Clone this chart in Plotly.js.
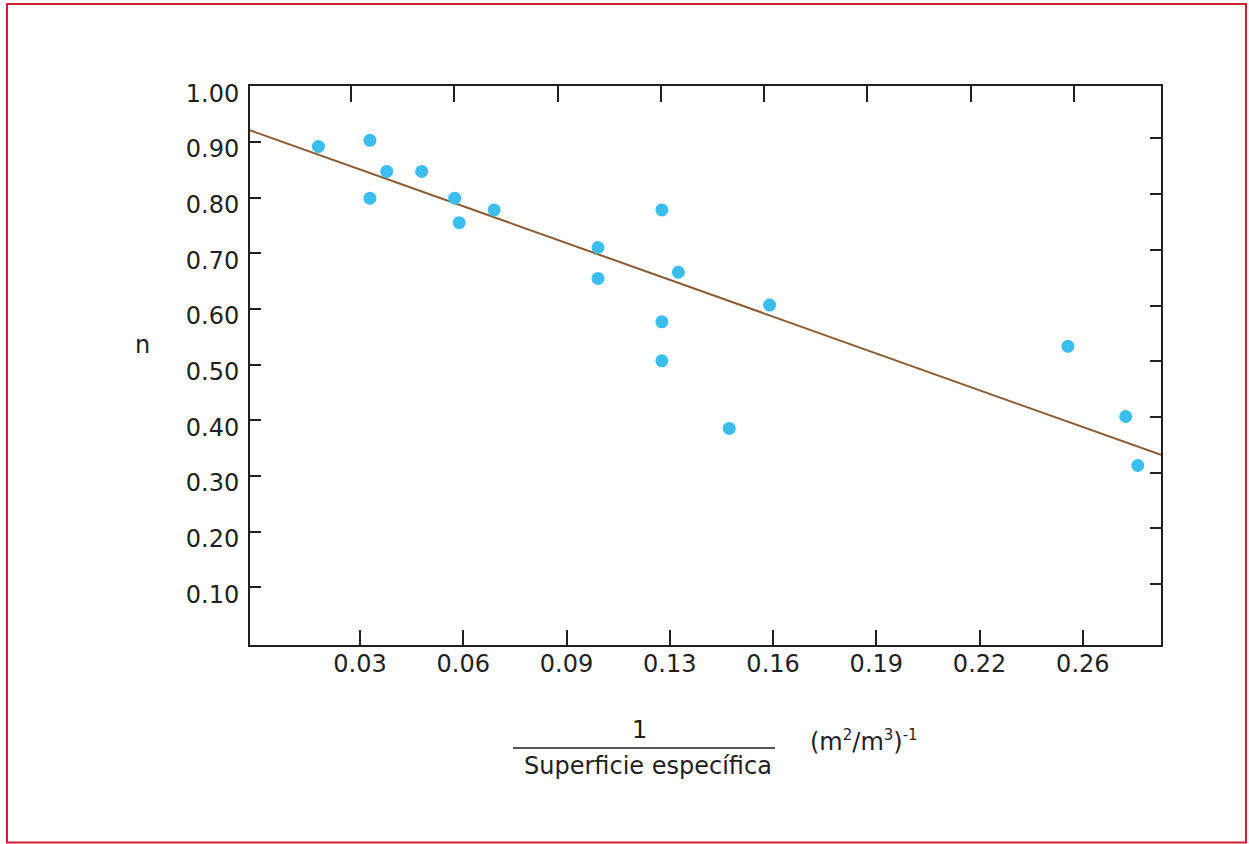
<!DOCTYPE html>
<html>
<head>
<meta charset="utf-8">
<script src="https://cdn.plot.ly/plotly-3.0.1.min.js"></script>
<style>
  html, body { margin: 0; padding: 0; background: #ffffff; }
  #chart { width: 1249px; height: 844px; }
</style>
</head>
<body>
<div id="chart"></div>
<script>
// ---- Data ----
const tickStep = 0.0325;
const xTickLabels = ['0.03', '0.06', '0.09', '0.13', '0.16', '0.19', '0.22', '0.26'];
const yTickValues = [0.1, 0.2, 0.3, 0.4, 0.5, 0.6, 0.7, 0.8, 0.9, 1.0];
const yTickLabels = ['0.10', '0.20', '0.30', '0.40', '0.50', '0.60', '0.70', '0.80', '0.90', '1.00'];

const pointsX = [0.0194, 0.0356, 0.0409, 0.0519, 0.0356, 0.0623, 0.0747, 0.0637, 0.1275, 0.1074,
                 0.1074, 0.1327, 0.1614, 0.1275, 0.1275, 0.1487, 0.2553, 0.2735, 0.2773];
const pointsY = [0.892, 0.903, 0.847, 0.847, 0.799, 0.799, 0.778, 0.755, 0.778, 0.7105,
                 0.655, 0.666, 0.607, 0.577, 0.507, 0.3855, 0.533, 0.407, 0.319];

const fitX = [-0.00214, 0.2846];
const fitY = [0.921, 0.338];

// ---- Derived ----
const xTickVals = xTickLabels.map((_, i) => (i + 1) * tickStep);
const xRange = [-0.00214, 0.2846];
const yRange = [-0.0034, 1.0005];
const pxPerX = 911 / (xRange[1] - xRange[0]);
const pxPerY = 559 / (yRange[1] - yRange[0]);
const topTickVals = xTickVals.map(v => v - 9 / pxPerX);
const rightTickVals = yTickValues.map(v => v + 3.5 / pxPerY);

const ink = '#231f20';
const font = { family: 'DejaVu Sans, sans-serif', size: 24, color: ink };

const traces = [
  {
    x: fitX, y: fitY, type: 'scatter', mode: 'lines',
    line: { color: '#8b5a30', width: 2 },
    hoverinfo: 'skip', showlegend: false
  },
  {
    x: pointsX, y: pointsY, type: 'scatter', mode: 'markers',
    marker: { color: '#3bbdee', size: 13, line: { width: 0 } },
    showlegend: false
  },
  {
    x: [], y: [], xaxis: 'x2', yaxis: 'y2', type: 'scatter', mode: 'markers',
    hoverinfo: 'skip', showlegend: false
  }
];

const layout = {
  width: 1249, height: 844,
  margin: { l: 250, r: 88, t: 86, b: 199, pad: 0 },
  paper_bgcolor: '#ffffff', plot_bgcolor: '#ffffff',
  font: font,
  showlegend: false,
  xaxis: {
    range: xRange, showgrid: false, zeroline: false,
    showline: true, linecolor: ink, linewidth: 2, mirror: false,
    ticks: 'inside', ticklen: 15, tickwidth: 2, tickcolor: ink,
    tickmode: 'array', tickvals: xTickVals, ticktext: xTickLabels,
    tickfont: font, ticklabelstandoff: -4
  },
  yaxis: {
    range: yRange, showgrid: false, zeroline: false,
    showline: true, linecolor: ink, linewidth: 2, mirror: false,
    ticks: 'inside', ticklen: 11, tickwidth: 2, tickcolor: ink,
    tickmode: 'array', tickvals: yTickValues, ticktext: yTickLabels,
    tickfont: font, ticklabelstandoff: 4, ticklabelshift: 7
  },
  xaxis2: {
    overlaying: 'x', side: 'top', range: xRange, showgrid: false, zeroline: false,
    showline: true, linecolor: ink, linewidth: 2,
    ticks: 'inside', ticklen: 16, tickwidth: 2, tickcolor: ink,
    tickmode: 'array', tickvals: topTickVals, showticklabels: false
  },
  yaxis2: {
    overlaying: 'y', side: 'right', range: yRange, showgrid: false, zeroline: false,
    showline: true, linecolor: ink, linewidth: 2,
    ticks: 'inside', ticklen: 11, tickwidth: 2, tickcolor: ink,
    tickmode: 'array', tickvals: rightTickVals, showticklabels: false
  },
  shapes: [
    { type: 'rect', xref: 'paper', yref: 'paper', x0: -0.26674, x1: 1.0933, y0: -0.35331, y1: 1.14669,
      line: { color: '#cf2035', width: 2 }, fillcolor: 'rgba(0,0,0,0)', layer: 'below' },
    { type: 'line', xref: 'paper', yref: 'paper', x0: 0.2887, x1: 0.5763, y0: -0.1843, y1: -0.1843,
      line: { color: ink, width: 1.5 } }
  ],
  annotations: [
    { text: 'n', xref: 'paper', yref: 'paper', x: -0.1178, y: 0.5367,
      xanchor: 'center', yanchor: 'middle', showarrow: false, font: font },
    { text: '1', xref: 'paper', yref: 'paper', x: 0.4281, y: -0.1521,
      xanchor: 'center', yanchor: 'middle', showarrow: false, font: font },
    { text: 'Superficie específica', xref: 'paper', yref: 'paper', x: 0.4369, y: -0.2165,
      xanchor: 'center', yanchor: 'middle', showarrow: false, font: font },
    { text: '(m<sup><span style="font-size:15px">2</span></sup>/m<sup><span style="font-size:15px">3</span></sup>)<sup><span style="font-size:15px">-1</span></sup>',
      xref: 'paper', yref: 'paper', x: 0.6745, y: -0.1717,
      xanchor: 'center', yanchor: 'middle', showarrow: false, font: font }
  ]
};

Plotly.newPlot('chart', traces, layout, { displayModeBar: false, staticPlot: true });
</script>
</body>
</html>
